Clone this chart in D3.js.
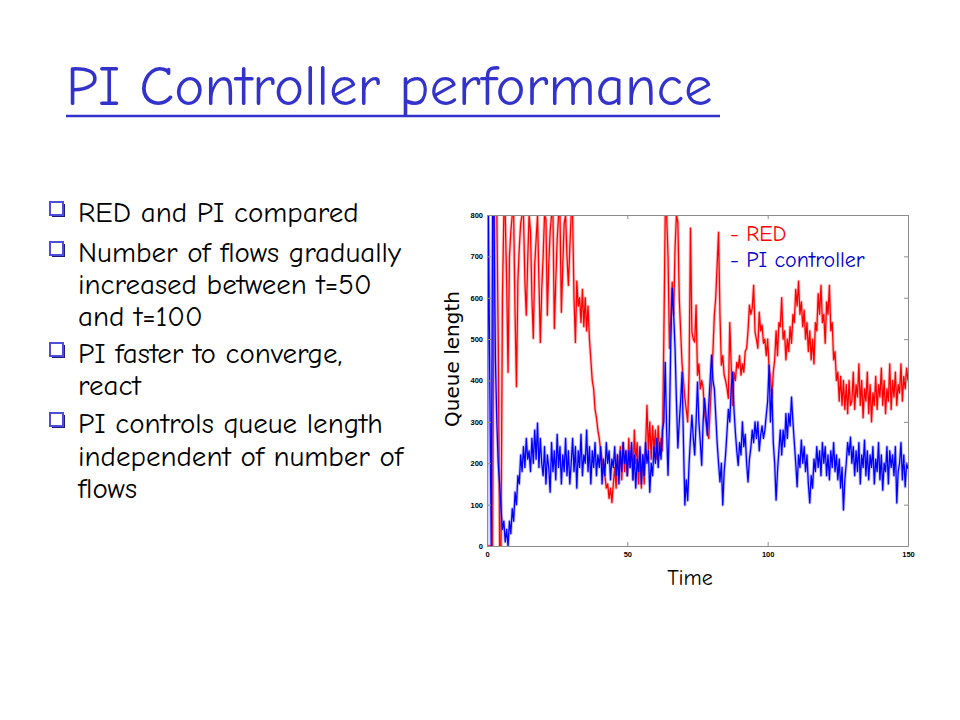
<!DOCTYPE html>
<html>
<head>
<meta charset="utf-8">
<script src="https://cdn.jsdelivr.net/npm/d3@7/dist/d3.min.js"></script>
<style>
  html, body { margin: 0; padding: 0; background: #ffffff; }
  svg { display: block; }
</style>
</head>
<body>
<svg id="slide" width="960" height="720"></svg>
<script>
// ---------------- data ----------------
const titleText = "PI Controller performance";
const bulletLines = [
  { text: "RED and PI compared", bullet: true },
  { text: "Number of flows gradually", bullet: true },
  { text: "increased between t=50", bullet: false },
  { text: "and t=100", bullet: false },
  { text: "PI faster to converge,", bullet: true },
  { text: "react", bullet: false },
  { text: "PI controls queue length", bullet: true },
  { text: "independent of number of", bullet: false },
  { text: "flows", bullet: false }
];
const xTicks = [0, 50, 100, 150];
const yTicks = [0, 100, 200, 300, 400, 500, 600, 700, 800];
const xDomain = [0, 150];
const yDomain = [0, 800];
const sampleStep = 0.5; // seconds between samples
const seriesNames = ["- RED", "- PI controller"];

// RED queue length, one value every 0.5 s from t=0 to t=150
const redQueue = [
  0,0,0,0,0,800,800,800,500,0, 0,600,800,800,640,420,700,760,800,800,
  560,385,640,720,780,800,800,640,558,690, 800,760,600,502,680,740,800,640,492,620,
  700,800,790,558,680,760,800,800,526,640, 740,800,800,565,680,780,800,700,630,720,
  800,800,600,492,640,580,600,540,620,530, 600,520,580,500,450,400,380,330,310,280,
  260,230,210,180,170,140,150,115,140,105, 150,190,140,220,170,240,160,250,180,230,
  170,260,190,240,160,280,200,250,150,230, 140,220,150,240,340,230,300,210,290,230,
  280,210,290,220,260,230,500,800,800,700, 478,560,638,560,720,800,783,600,517,440,
  400,357,330,300,420,768,517,500,493,582, 413,440,380,400,382,320,300,275,260,330,
  396,470,558,600,680,758,560,437,460,413, 400,382,357,540,437,340,420,400,444,430,
  460,413,440,420,470,478,520,582,560,575, 630,517,500,478,565,520,534,490,500,460,
  500,430,410,360,420,450,520,460,540,530, 600,500,520,450,500,470,530,490,560,540,
  620,580,640,560,590,530,570,500,540,470, 520,450,500,440,540,520,610,560,630,540,
  560,490,590,560,630,520,540,450,470,400, 420,350,410,340,400,330,390,320,400,340,
  350,420,330,390,360,440,340,400,310,380, 350,420,320,390,300,370,340,410,330,390,
  360,430,340,400,320,380,350,440,330,400, 360,420,340,390,370,440,350,410,380,430,
  400
];

// PI controller queue length, one value every 0.5 s from t=0 to t=150
const piQueue = [
  0,800,400,0,800,800,450,300,200,150, 90,40,60,10,40,0,60,30,90,60,
  130,100,170,150,220,180,240,190,260,210, 230,180,260,200,280,210,297,190,260,200,
  170,240,150,220,190,130,250,180,230,160, 270,190,240,150,220,180,260,170,230,150,
  200,260,180,240,140,230,190,270,170,220, 200,280,180,240,150,230,190,250,170,220,
  190,240,150,210,170,250,200,230,160,210, 190,240,170,220,150,230,180,250,200,230,
  170,230,190,250,160,220,140,210,180,240, 150,220,170,250,200,230,130,200,170,240,
  200,260,190,250,210,280,300,444,280,171, 300,500,623,560,478,350,237,300,350,420,
  250,99,160,110,200,260,316,260,220,300, 396,300,250,195,300,357,320,268,340,400,
  461,400,380,316,250,200,155,200,99,180, 220,275,330,300,380,420,330,275,230,195,
  250,220,300,240,270,200,155,210,237,280, 250,300,260,300,230,268,290,260,280,316,
  350,437,300,380,250,200,111,180,230,280, 220,280,240,320,260,320,290,360,300,250,
  200,143,220,190,256,200,240,180,220,150, 104,170,140,210,180,240,190,230,170,250,
  200,240,170,220,160,230,190,250,180,220, 160,210,140,190,87,160,200,250,220,263,
  200,240,170,230,180,250,150,220,190,256, 170,230,160,220,190,240,150,210,180,250,
  160,220,135,200,180,240,150,230,190,220, 170,240,104,180,200,250,160,220,143,200,
  186
];

// ---------------- drawing ----------------
const svg = d3.select("#slide");
const titleBlue = "#3333cc";
const comic = "'Comic Sans MS','Comic Neue','Open Sans','DejaVu Sans',sans-serif";

// Title
svg.append("text")
  .attr("x", 66).attr("y", 105)
  .attr("font-family", comic)
  .attr("font-size", 57)
  .attr("fill", titleBlue)
  .text(titleText);
svg.append("line")
  .attr("x1", 66).attr("x2", 720)
  .attr("y1", 116).attr("y2", 116)
  .attr("stroke", titleBlue).attr("stroke-width", 2.5);

// Bullets
const lineBaselines = [222, 262, 294, 326, 363, 395, 433, 466, 498];
const bulletG = svg.append("g");
bulletLines.forEach((ln, i) => {
  const yb = lineBaselines[i];
  if (ln.bullet) {
    bulletG.append("rect")
      .attr("x", 52).attr("y", yb - 18).attr("width", 13).attr("height", 13)
      .attr("fill", "#1a1a80");
    bulletG.append("rect")
      .attr("x", 50).attr("y", yb - 20).attr("width", 13).attr("height", 13)
      .attr("fill", "#ffffff").attr("stroke", "#4d4dd9").attr("stroke-width", 2);
  }
  bulletG.append("text")
    .attr("x", 78).attr("y", yb)
    .attr("font-family", comic)
    .attr("font-size", 29)
    .attr("fill", "#000000")
    .text(ln.text);
});

// Chart
const x = d3.scaleLinear().domain(xDomain).range([487, 908]);
const y = d3.scaleLinear().domain(yDomain).range([546, 215]);

svg.append("clipPath").attr("id", "plotClip")
  .append("rect").attr("x", 487).attr("y", 215).attr("width", 421).attr("height", 331);

const lineGen = d3.line()
  .x((d, i) => x(i * sampleStep))
  .y(d => y(d));

const plot = svg.append("g").attr("clip-path", "url(#plotClip)");
function drawSeries(data, halo, core) {
  plot.append("path").datum(data)
    .attr("d", lineGen).attr("fill", "none")
    .attr("stroke", halo).attr("stroke-width", 3.2).attr("stroke-opacity", 0.35)
    .attr("stroke-linejoin", "round");
  plot.append("path").datum(data)
    .attr("d", lineGen).attr("fill", "none")
    .attr("stroke", core).attr("stroke-width", 1.3).attr("stroke-linejoin", "round");
}
drawSeries(redQueue, "#ff5050", "#ff0000");
drawSeries(piQueue, "#5050ff", "#0000ff");

// Axes (MATLAB-style box with inward ticks)
const axisColor = "#8c8c8c";
function styleAxis(g, showLabels) {
  g.select(".domain").attr("stroke", axisColor);
  g.selectAll(".tick line").attr("stroke", axisColor);
  g.selectAll(".tick text")
    .attr("fill", "#000")
    .attr("font-family", "'Liberation Sans', Arial, sans-serif")
    .attr("font-size", 7.5)
    .attr("font-weight", "bold")
    .style("display", showLabels ? null : "none");
}
svg.append("g").attr("transform", "translate(0,546)")
  .call(d3.axisBottom(x).tickValues(xTicks).tickSizeInner(-4).tickSizeOuter(0).tickPadding(6).tickFormat(d3.format("d")))
  .call(g => styleAxis(g, true));
svg.append("g").attr("transform", "translate(487,0)")
  .call(d3.axisLeft(y).tickValues(yTicks).tickSizeInner(-4).tickSizeOuter(0).tickPadding(4).tickFormat(d3.format("d")))
  .call(g => styleAxis(g, true));
svg.append("g").attr("transform", "translate(0,215)")
  .call(d3.axisTop(x).tickValues(xTicks).tickSizeInner(-4).tickSizeOuter(0))
  .call(g => styleAxis(g, false));
svg.append("g").attr("transform", "translate(908,0)")
  .call(d3.axisRight(y).tickValues(yTicks).tickSizeInner(-4).tickSizeOuter(0))
  .call(g => styleAxis(g, false));

// Axis titles
svg.append("text")
  .attr("transform", "translate(459,359) rotate(-90)")
  .attr("text-anchor", "middle")
  .attr("font-family", "'DejaVu Sans', Arial, sans-serif")
  .attr("font-size", 20)
  .attr("fill", "#000")
  .text("Queue length");
svg.append("text")
  .attr("x", 690).attr("y", 585)
  .attr("text-anchor", "middle")
  .attr("font-family", comic)
  .attr("font-size", 22)
  .attr("fill", "#000")
  .text("Time");

// Legend
svg.append("text")
  .attr("x", 730).attr("y", 241)
  .attr("font-family", comic).attr("font-size", 22)
  .attr("fill", "#ff0000").text(seriesNames[0]);
svg.append("text")
  .attr("x", 730).attr("y", 267)
  .attr("font-family", comic).attr("font-size", 22)
  .attr("fill", "#0000cc").text(seriesNames[1]);
</script>
</body>
</html>
